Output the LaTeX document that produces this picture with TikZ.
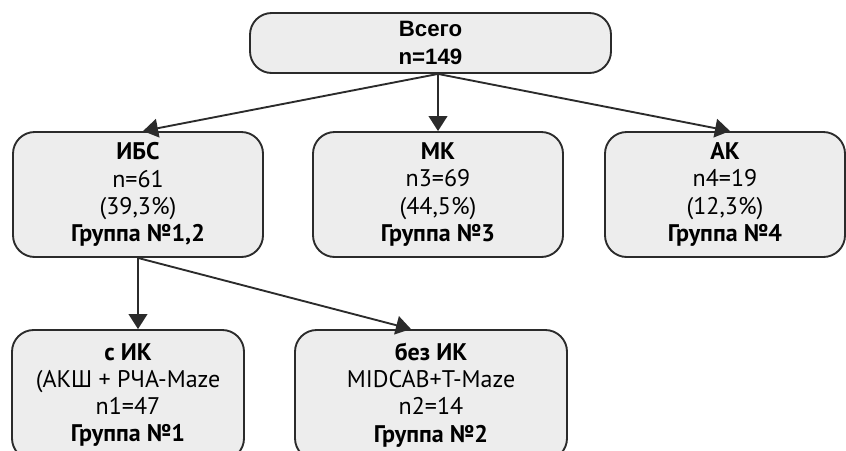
\documentclass[tikz,border=0pt]{standalone}
\usepackage{fontspec}
\setmainfont{PT Sans}
\newfontfamily\headfont{Liberation Sans}
\usetikzlibrary{arrows.meta}
\usetikzlibrary{positioning}
\definecolor{boxfill}{HTML}{EDEDED}
\definecolor{boxline}{HTML}{2B2B2B}
\tikzset{
  grp/.style={rectangle, rounded corners=0.65cm, minimum height=3.75cm, align=center, text centered,
    draw=boxline, fill=boxfill, line width=1.6pt, font=\fontsize{20.5}{23.2}\selectfont},
  top/.style={grp, minimum width=10.83cm, minimum height=1.8cm, font=\headfont\bfseries\fontsize{19}{24.5}\selectfont},
  sub/.style={grp, minimum height=3.9cm},
  link/.style={line width=1.6pt, draw=boxline, -{Triangle[length=0.45cm, width=0.56cm]}}
}

\begin{document}
\begin{tikzpicture}
\useasboundingbox (0,0) rectangle (25.38,-13.5);
\node[top] (total) at (12.915,-1.29) {Всего\\n=149};
%
\node[grp, minimum width=7.5cm] (ibs) at (4.14,-5.835) {\textbf{ИБС}\\n=61\\(39,3\%)\\\textbf{Группа №1,2}};
\node[grp, minimum width=7.5cm] (mk) at (13.14,-5.835) {\textbf{МК}\\n3=69\\(44,5\%)\\\textbf{Группа №3}};
\node[grp, minimum width=7.2cm] (ak) at (21.75,-5.835) {\textbf{АК}\\n4=19\\(12,3\%)\\\textbf{Группа №4}};
%
\node[sub, minimum width=6.96cm] (sik) at (3.84,-11.85) {\textbf{с ИК}\\(АКШ + РЧА-Maze\\n1=47\\\textbf{Группа №1}};
\node[sub, minimum width=8.16cm] (bezik) at (12.93,-11.85) {\textbf{без ИК}\\MIDCAB+T-Maze\\n2=14\\\textbf{Группа №2}};
%
\coordinate (split) at (total.south -| mk.north);
\draw[link] (split) -- ([xshift=0.15cm]ibs.north);
\draw[link] (split) -- (mk.north);
\draw[link] (split) -- ([xshift=0.15cm]ak.north);
\draw[link] (ibs.south) -- (ibs.south |- sik.north);
\draw[link] (ibs.south) -- ([xshift=-0.6cm]bezik.north);
\end{tikzpicture}
\end{document}
